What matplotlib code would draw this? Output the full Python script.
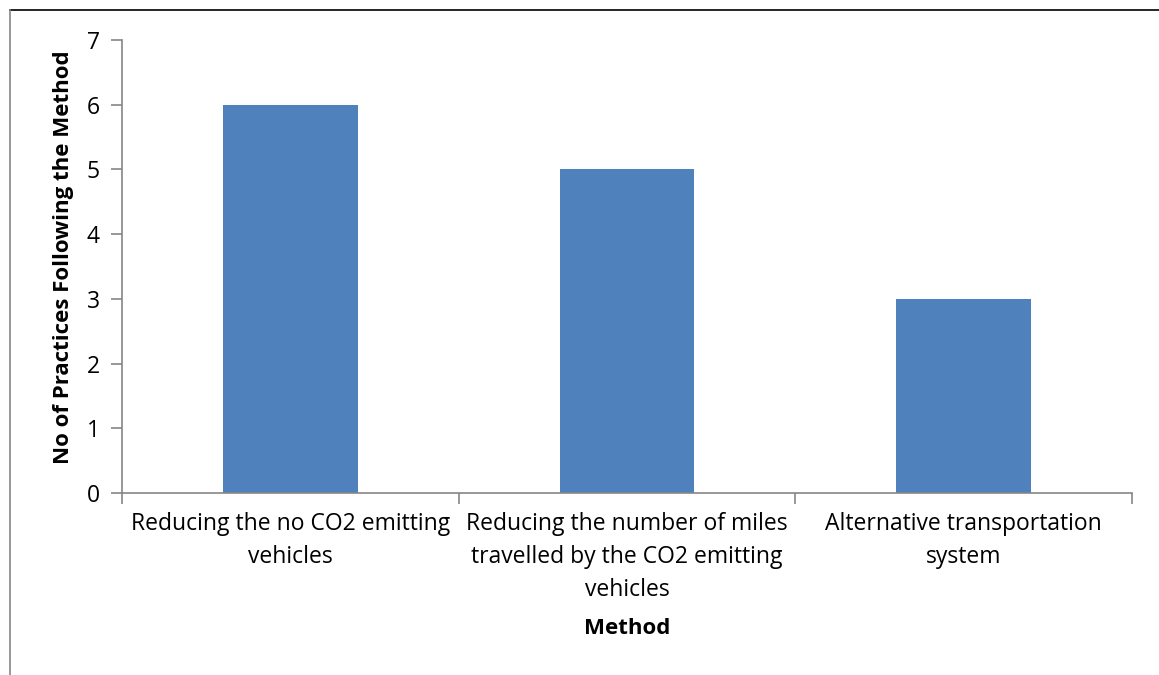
import matplotlib.pyplot as plt
from matplotlib.lines import Line2D
import numpy as np

plt.rcParams['font.family'] = ['Open Sans', 'DejaVu Sans']

methods = [
    "Reducing the no CO2 emitting\nvehicles",
    "Reducing the number of miles\ntravelled by the CO2 emitting\nvehicles",
    "Alternative transportation\nsystem",
]
practices = [6, 5, 3]

bar_color = "#4F81BD"
axis_color = "#868686"

fig = plt.figure(figsize=(11.59, 6.75), dpi=100)
ax = fig.add_axes([122 / 1159, 1 - 493 / 675, (1132 - 122) / 1159, (493 - 40) / 675])

x = np.arange(len(methods))
ax.bar(x, practices, width=0.4, color=bar_color, zorder=2)

ax.set_xlim(-0.5, len(methods) - 0.5)
ax.set_ylim(0, 7)
ax.set_yticks(range(0, 8))

# category boundaries get the tick marks, centres get the labels
ax.set_xticks(np.arange(len(methods) + 1) - 0.5)
ax.set_xticklabels([])
ax.set_xticks(x, minor=True)
ax.set_xticklabels(methods, minor=True, fontsize=16.5, linespacing=1.5, va="top")
ax.tick_params(axis="x", which="minor", length=0, pad=14)
ax.tick_params(axis="x", which="major", length=8, color=axis_color, width=1.2)
ax.tick_params(axis="y", length=8, color=axis_color, width=1.2, labelsize=16.5, pad=8)

for side in ["top", "right"]:
    ax.spines[side].set_visible(False)
for side in ["left", "bottom"]:
    ax.spines[side].set_color(axis_color)
    ax.spines[side].set_linewidth(1.2)

ax.set_xlabel("Method", fontsize=16, fontweight="bold")
ax.set_ylabel("No of Practices Following the Method", fontsize=16, fontweight="bold")
ax.xaxis.set_label_coords(0.5, -0.277)
ax.yaxis.set_label_coords(-0.048, 0.52)

# chart area border (top and left edges visible)
fig.add_artist(Line2D([10 / 1159, 1], [1 - 10 / 675, 1 - 10 / 675], color="black", linewidth=1.2, transform=fig.transFigure))
fig.add_artist(Line2D([10 / 1159, 10 / 1159], [0, 1 - 10 / 675], color=axis_color, linewidth=1.2, transform=fig.transFigure))

fig.savefig("out.png", dpi=100)
